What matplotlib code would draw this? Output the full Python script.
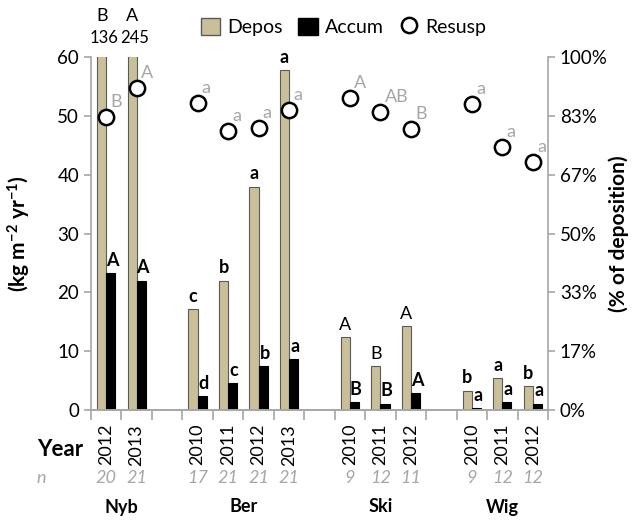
import matplotlib
matplotlib.use('Agg')
import matplotlib.pyplot as plt
import matplotlib.transforms as mtransforms
from matplotlib.patches import Patch
from matplotlib.lines import Line2D

plt.rcParams['font.family'] = ['Lato', 'DejaVu Sans']
plt.rcParams['mathtext.default'] = 'regular'

# one slot per bar group; None marks a gap between sites
years = ['2012', '2013', None, '2010', '2011', '2012', '2013', None,
         '2010', '2011', '2012', None, '2010', '2011', '2012']
n_obs = ['20', '21', None, '17', '21', '21', '21', None,
         '9', '12', '11', None, '9', '12', '12']
sites = ['Nyb', 'Ber', 'Ski', 'Wig']
site_slots = [(0, 1), (3, 6), (8, 10), (12, 14)]

depos = [136, 245, None, 17.1, 22.0, 38.0, 57.8, None,
         12.4, 7.5, 14.3, None, 3.3, 5.5, 4.0]
accum = [23.3, 22.0, None, 2.3, 4.6, 7.5, 8.6, None,
         1.4, 1.1, 2.9, None, 0.4, 1.3, 1.1]
resusp = [0.83, 0.912, None, 0.87, 0.79, 0.80, 0.85, None,
          0.884, 0.844, 0.796, None, 0.867, 0.745, 0.703]

depos_lett = ['B', 'A', None, 'c', 'b', 'a', 'a', None,
              'A', 'B', 'A', None, 'b', 'a', 'b']
accum_lett = ['A', 'A', None, 'd', 'c', 'b', 'a', None,
              'B', 'B', 'A', None, 'a', 'a', 'a']
resusp_lett = ['B', 'A', None, 'a', 'a', 'a', 'a', None,
               'A', 'AB', 'B', None, 'a', 'a', 'a']

TAN = '#C9C09A'
GRAY = '#A6A6A6'
YMAX = 60

fig = plt.figure(figsize=(6.35, 5.2), dpi=100)
ax = fig.add_axes([0.1433, 0.2115, 0.7197, 0.6785])
ax2 = ax.twinx()

idx = [i for i, v in enumerate(depos) if v is not None]
bw = 0.3
ax.bar([i - bw / 2 for i in idx], [depos[i] for i in idx], width=bw,
       color=TAN, edgecolor='#5a5a5a', linewidth=0.8, zorder=2)
ax.bar([i + bw / 2 for i in idx], [accum[i] for i in idx], width=bw,
       color='black', edgecolor='black', linewidth=0.8, zorder=2)

ax2.plot(idx, [resusp[i] for i in idx], 'o', ms=11, mfc='white',
         mec='black', mew=1.8, zorder=3, clip_on=False)

ax.set_xlim(-0.5, 14.5)
ax.set_ylim(0, YMAX)
ax2.set_ylim(0, 1)
ax.set_yticks(range(0, 61, 10))
r_ticks = [k / 6 for k in range(7)]
ax2.set_yticks(r_ticks)
ax2.set_yticklabels([f'{round(v * 100)}%' for v in r_ticks])

for a in (ax, ax2):
    a.spines['top'].set_visible(False)
    for s in ('left', 'right', 'bottom'):
        a.spines[s].set_color(GRAY)
        a.spines[s].set_linewidth(1.2)
    a.tick_params(axis='y', colors=GRAY, labelcolor='black', labelsize=13.5,
                  length=5, width=1.2)
ax2.spines['left'].set_visible(False)
ax.spines['right'].set_visible(False)

# x ticks: labels at slot centers, tick marks at slot boundaries
ax.set_xticks(idx)
ax.set_xticklabels([years[i] for i in idx], rotation=90, fontsize=13)
ax.tick_params(axis='x', which='major', length=0, pad=10)
ax.set_xticks([i - 0.5 for i in range(16)], minor=True)
ax.tick_params(axis='x', which='minor', length=7, width=1.2, colors=GRAY,
               direction='out')

# letters above bars
for i in idx:
    if depos[i] > YMAX:
        # off-scale bars: value written above the axis top
        ax.annotate(f'{depos[i]}', (i - bw / 4, YMAX), xytext=(0, 8),
                    textcoords='offset points', ha='center', va='bottom',
                    fontsize=12, annotation_clip=False)
        ax.annotate(depos_lett[i], (i - bw / 2, YMAX), xytext=(0, 24),
                    textcoords='offset points', ha='center', va='bottom',
                    fontsize=13, annotation_clip=False)
    else:
        ax.annotate(depos_lett[i], (i - bw / 2, depos[i]), xytext=(0, 3),
                    textcoords='offset points', ha='center', va='bottom',
                    fontsize=13,
                    fontweight='bold' if depos_lett[i].islower() else 'normal')
    ax.annotate(accum_lett[i], (i + bw / 2, accum[i]), xytext=(1, 3),
                textcoords='offset points', ha='center', va='bottom',
                fontsize=13, fontweight='bold')
    ax2.annotate(resusp_lett[i], (i, resusp[i]), xytext=(3, 5),
                 textcoords='offset points', ha='left', va='bottom',
                 fontsize=13, color=GRAY)

# rows under the axis
tr = mtransforms.blended_transform_factory(ax.transData, fig.transFigure)
fig.text(0.095, 1 - 449 / 520, 'Year', ha='center', va='center',
         fontsize=16, fontweight='bold')
fig.text(0.065, 1 - 478 / 520, 'n', ha='center', va='center',
         fontsize=13, style='italic', color=GRAY)
for i in idx:
    ax.text(i, 1 - 478 / 520, n_obs[i], transform=tr, ha='center',
            va='center', fontsize=13, style='italic', color=GRAY)
for name, (a, b) in zip(sites, site_slots):
    ax.text((a + b) / 2, 1 - 507 / 520, name, transform=tr, ha='center',
            va='center', fontsize=13, fontweight='bold')

fig.text(0.03, 0.55, '(kg m$^{-2}$ yr$^{-1}$)', rotation=90, ha='center',
         va='center', fontsize=15, fontweight='bold')
fig.text(0.975, 0.55, '(% of deposition)', rotation=90, ha='center',
         va='center', fontsize=15, fontweight='bold')

handles = [Patch(facecolor=TAN, edgecolor='#5a5a5a', label='Depos'),
           Patch(facecolor='black', edgecolor='black', label='Accum'),
           Line2D([], [], marker='o', ls='none', mfc='white', mec='black',
                  mew=1.8, ms=11, label='Resusp')]
fig.legend(handles=handles, loc='upper center', bbox_to_anchor=(0.541, 1.0),
           ncol=3, frameon=False, fontsize=14, handlelength=1.0,
           handleheight=1.0, handletextpad=0.35, columnspacing=0.8)

fig.savefig('out.png', dpi=100)
